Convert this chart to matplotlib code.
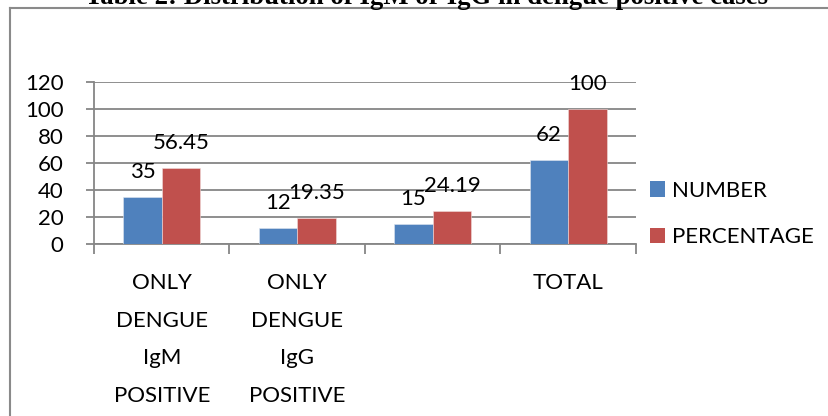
import matplotlib
matplotlib.use('Agg')
import matplotlib.pyplot as plt
from matplotlib.patches import Patch
from matplotlib.lines import Line2D
import numpy as np

# datos
categorias = ['ONLY\nDENGUE\nIgM\nPOSITIVE', 'ONLY\nDENGUE\nIgG\nPOSITIVE', '', 'TOTAL']
numero = [35, 12, 15, 62]
porcentaje = [56.45, 19.35, 24.19, 100]
etiquetas_num = ['35', '12', '15', '62']
etiquetas_pct = ['56.45', '19.35', '24.19', '100']
series = ['NUMBER', 'PERCENTAGE']
titulo = 'Table 2: Distribution of IgM or IgG in dengue positive cases'

azul = '#4F81BD'
rojo = '#C0504D'
gris = '#868686'

W, H = 829, 416
plt.rcParams['font.family'] = ['Lato', 'DejaVu Sans']
fig = plt.figure(figsize=(W / 100, H / 100), dpi=100)

# area del grafico (en pixeles: x 94..636, y 82..244)
ax = fig.add_axes([94 / W, 1 - 244 / H, (636 - 94) / W, (244 - 82) / H])

x = np.arange(len(categorias))
ancho = 0.2857
ax.bar(x - ancho / 2, numero, ancho, color=azul, edgecolor='#dfe6f0', linewidth=0.4, zorder=3)
ax.bar(x + ancho / 2, porcentaje, ancho, color=rojo, edgecolor='#f0dcdc', linewidth=0.4, zorder=3)

for i in range(len(x)):
    ax.annotate(etiquetas_num[i], (x[i] - ancho / 2, numero[i]), xytext=(0, 19),
                textcoords='offset pixels', ha='center', va='baseline', fontsize=16, zorder=4)
    ax.annotate(etiquetas_pct[i], (x[i] + ancho / 2, porcentaje[i]), xytext=(0, 19),
                textcoords='offset pixels', ha='center', va='baseline', fontsize=16, zorder=4)

ax.set_xlim(-0.5, len(categorias) - 0.5)
ax.set_ylim(0, 120)
ax.set_yticks(range(0, 121, 20))
ax.yaxis.grid(True, color=gris, linewidth=1.3, zorder=0)
ax.tick_params(axis='y', length=6, width=1.3, color=gris, pad=16, labelsize=16)

# ticks en los limites de categoria, etiquetas en el centro
ax.set_xticks(np.arange(-0.5, len(categorias), 1))
ax.set_xticklabels([])
ax.set_xticks(x, minor=True)
ax.set_xticklabels(categorias, minor=True, fontsize=16, linespacing=2.1)
ax.tick_params(axis='x', which='major', length=7, width=1.3, color=gris)
ax.tick_params(axis='x', which='minor', length=0, pad=21)

for lado in ['top', 'right']:
    ax.spines[lado].set_visible(False)
for lado in ['left', 'bottom']:
    ax.spines[lado].set_color(gris)
    ax.spines[lado].set_linewidth(1.3)

manejadores = [Patch(facecolor=azul), Patch(facecolor=rojo)]
fig.legend(manejadores, series, loc='center left', bbox_to_anchor=(650 / W, 1 - 214 / H),
           frameon=False, fontsize=16, handlelength=0.68, handleheight=0.68,
           handletextpad=0.32, labelspacing=1.2, borderpad=0, borderaxespad=0)

# titulo cortado arriba y marco
fig.text(426.5 / W, 1 - 4 / H, titulo, ha='center', va='baseline',
         fontfamily='Liberation Serif', fontweight='bold', fontsize=19.3)
fig.add_artist(Line2D([10 / W, 1], [1 - 7.5 / H, 1 - 7.5 / H], transform=fig.transFigure,
                      color='#8a8a8a', linewidth=1.5))
fig.add_artist(Line2D([10 / W, 10 / W], [0, 1 - 7.5 / H], transform=fig.transFigure,
                      color='#8a8a8a', linewidth=1.5))

fig.savefig('out.png', dpi=100)
